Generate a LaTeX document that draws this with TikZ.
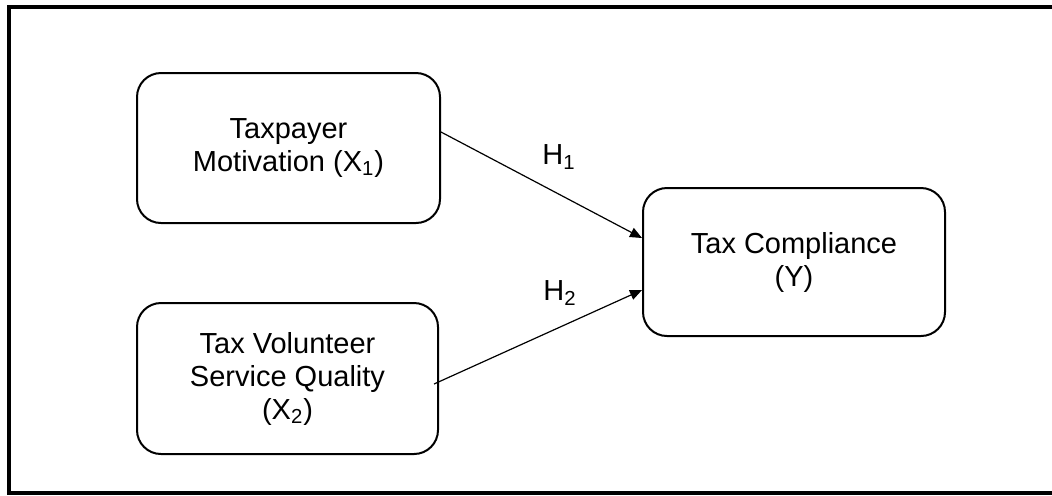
\documentclass[tikz,border=0pt]{standalone}
\usepackage{fontspec}
\setmainfont{Liberation Sans}
\usetikzlibrary{arrows.meta}
\begin{document}
\begin{tikzpicture}[x=0.5pt,y=-0.5pt,
  box/.style={draw,line width=1pt,rounded corners=12pt,align=center,
    font=\fontsize{14.5pt}{16.5pt}\selectfont,inner sep=0pt},
  link/.style={line width=0.6pt,-{Triangle[length=6pt,width=5pt]}},
  hlabel/.style={font=\fontsize{14.5pt}{16.5pt}\selectfont,inner sep=0pt}]
\useasboundingbox (0,0) rectangle (1052,495);
\draw[line width=2pt] (1070,7) -- (9,7) -- (9,493) -- (1070,493);
\node[box,minimum width=151.5pt,minimum height=75pt] (b1) at (288.5,148)
  {Taxpayer\\Motivation (X\textsubscript{1})};
\node[box,minimum width=150.5pt,minimum height=75.5pt] (b2) at (287.5,378.5)
  {Tax Volunteer\\Service Quality\\(X\textsubscript{2})};
\node[box,minimum width=151pt,minimum height=74pt] (b3) at (794,262)
  {Tax Compliance\\(Y)};
\draw[link] ([yshift=8pt]b1.east) -- ([yshift=12pt]b3.west);
\draw[link] ([xshift=-2.5pt,yshift=-2.75pt]b2.east) -- ([yshift=-14pt]b3.west);
\node[hlabel] (h1) at (559,157) {H\textsubscript{1}};
\node[hlabel] (h2) at (560,293) {H\textsubscript{2}};
\end{tikzpicture}
\end{document}
